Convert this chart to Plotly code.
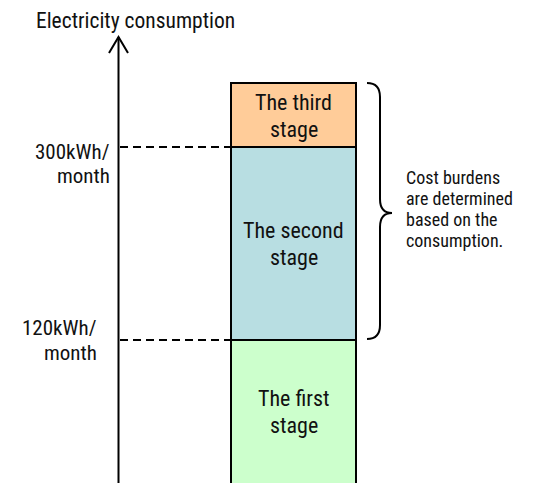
import plotly.graph_objects as go

# ---- data ----
STAGE_NAMES = ["The first stage", "The second stage", "The third stage"]
STAGE_LINE1 = ["The first", "The second", "The third"]
STAGE_LINE2 = ["stage", "stage", "stage"]
STAGE_LOWER = [None, 120, 300]      # first stage starts below the visible window
STAGE_UPPER = [120, 300, 360]
STAGE_COLORS = ["#CCFFCC", "#B8DEE2", "#FFCC99"]
THRESHOLDS = [120, 300]
THRESHOLD_LABELS = [["120kWh/", "month"], ["300kWh/", "month"]]
AXIS_TITLE = "Electricity consumption"
NOTE_LINES = ["Cost burdens", "are determined", "based on the", "consumption."]

W, H = 535, 483
Y_RANGE = [-13.4, 437.1]
Y_FLOOR = Y_RANGE[0] - 20
FONT = "Roboto Condensed, Liberation Sans, Arial, sans-serif"
TXT = "#111111"

def py(p):
    """pixel row -> paper fraction"""
    return 1 - p / H

fig = go.Figure()
lowers = [Y_FLOOR if v is None else v for v in STAGE_LOWER]
for name, lo, hi, col in zip(STAGE_NAMES, lowers, STAGE_UPPER, STAGE_COLORS):
    fig.add_trace(go.Bar(
        x=[293.5], y=[hi - lo], base=[lo], width=[125], name=name,
        marker=dict(color=col, line=dict(color="black", width=2)),
        hoverinfo="name", showlegend=False,
    ))

shapes = []
for t in THRESHOLDS:
    shapes.append(dict(type="line", xref="x", yref="y", x0=120, x1=231, y0=t, y1=t,
                       line=dict(color="black", width=2, dash="8px,5px")))
shapes.append(dict(type="line", xref="x", yref="paper", x0=118.5, x1=118.5,
                   y0=py(490), y1=py(37), line=dict(color="black", width=2)))
shapes.append(dict(type="path", xref="x", yref="paper",
                   path=f"M109,{py(53)} L118.5,{py(37)} L128,{py(53)}",
                   line=dict(color="black", width=2)))
bx0, bx1, btip = 367, 380, 392
yt, ym, yb = 83, 213, 339
def P(x, y):
    return f"{x},{py(y)}"
brace = (f"M{P(bx0, yt)} Q{P(bx1, yt)} {P(bx1, yt + 14)} L{P(bx1, ym - 14)} "
         f"Q{P(bx1, ym)} {P(btip, ym)} Q{P(bx1, ym)} {P(bx1, ym + 14)} "
         f"L{P(bx1, yb - 14)} Q{P(bx1, yb)} {P(bx0, yb)}")
shapes.append(dict(type="path", xref="x", yref="paper", path=brace,
                   line=dict(color="black", width=2)))

ann = []
ann.append(dict(text=AXIS_TITLE, x=34, y=py(21), xref="x", yref="paper",
                xanchor="left", yanchor="middle", showarrow=False,
                font=dict(size=21.5, color=TXT)))
label_pos = {120: (99, 12, -13.5), 300: (112, -5, -29)}
for t, (l1, l2) in zip(THRESHOLDS, THRESHOLD_LABELS):
    xr, s1, s2 = label_pos[t]
    ann.append(dict(text=l1, x=xr, y=t, xref="x", yref="y",
                    xanchor="right", yanchor="middle", yshift=s1, showarrow=False,
                    font=dict(size=21, color=TXT)))
    ann.append(dict(text=l2, x=xr, y=t, xref="x", yref="y",
                    xanchor="right", yanchor="middle", yshift=s2, showarrow=False,
                    font=dict(size=21, color=TXT)))
vis_lo = [max(lo, Y_RANGE[0]) for lo in lowers]
for lo, hi, a, b in zip(vis_lo, STAGE_UPPER, STAGE_LINE1, STAGE_LINE2):
    mid = (lo + hi) / 2
    ann.append(dict(text=a, x=293.5, y=mid, xref="x", yref="y", showarrow=False,
                    yanchor="middle", yshift=12.5, font=dict(size=22, color=TXT)))
    ann.append(dict(text=b, x=293.5, y=mid, xref="x", yref="y", showarrow=False,
                    yanchor="middle", yshift=-14.5, font=dict(size=22, color=TXT)))
for i, line in enumerate(NOTE_LINES):
    ann.append(dict(text=line, x=404, y=py(177 + i * 21.2), xref="x", yref="paper",
                    xanchor="left", yanchor="middle", showarrow=False,
                    font=dict(size=18, color=TXT)))

fig.update_layout(
    width=W, height=H, autosize=False,
    margin=dict(l=0, r=0, t=0, b=0, pad=0),
    paper_bgcolor="white", plot_bgcolor="white",
    font=dict(family=FONT, color=TXT),
    xaxis=dict(range=[0, W], visible=False, fixedrange=True),
    yaxis=dict(range=Y_RANGE, visible=False, fixedrange=True),
    barmode="overlay", bargap=0,
    shapes=shapes, annotations=ann,
)
fig.write_html("out.html", config={"displayModeBar": False},
               post_script="document.body.style.margin='0px';")
